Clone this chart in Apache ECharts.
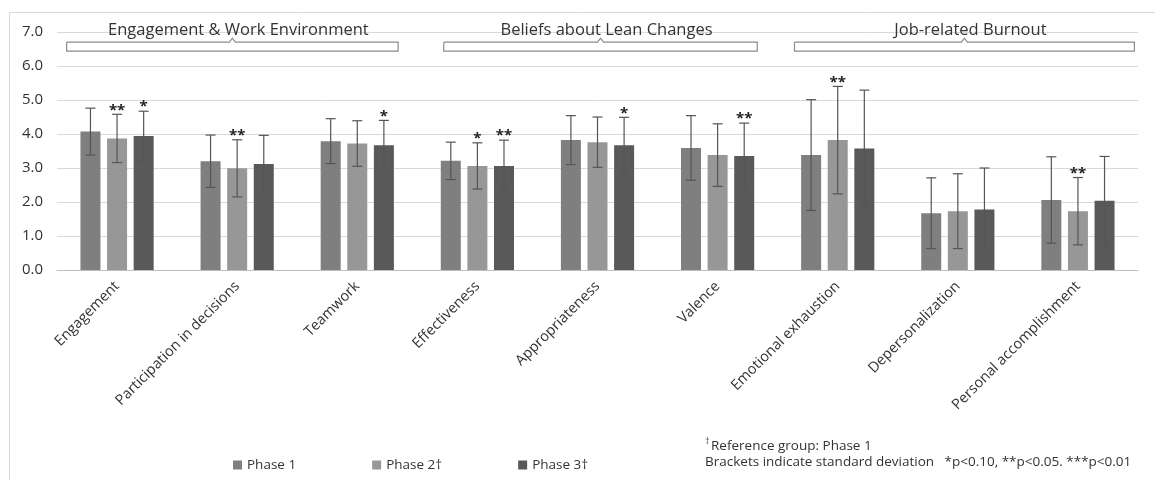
<!DOCTYPE html>
<html>
<head>
<meta charset="utf-8">
<script src="https://cdn.jsdelivr.net/npm/echarts@6/dist/echarts.min.js"></script>
<style>
  html, body { margin: 0; padding: 0; background: #fff; }
  #chart { width: 1155px; height: 480px; }
</style>
</head>
<body>
<div id="chart"></div>
<script>
// categories on the x axis
const categories = [
  'Engagement', 'Participation in decisions', 'Teamwork',
  'Effectiveness', 'Appropriateness', 'Valence',
  'Emotional exhaustion', 'Depersonalization', 'Personal accomplishment'
]
const phaseNames = ['Phase 1', 'Phase 2†', 'Phase 3†']

// means
const phase1 = [4.07, 3.20, 3.79, 3.21, 3.82, 3.59, 3.38, 1.67, 2.06]
const phase2 = [3.87, 2.99, 3.72, 3.06, 3.76, 3.38, 3.82, 1.73, 1.73]
const phase3 = [3.94, 3.12, 3.67, 3.06, 3.67, 3.35, 3.57, 1.78, 2.04]

// standard deviations (error bars)
const sd1 = [0.69, 0.77, 0.66, 0.55, 0.72, 0.95, 1.63, 1.04, 1.27]
const sd2 = [0.71, 0.84, 0.67, 0.68, 0.74, 0.92, 1.58, 1.10, 0.99]
const sd3 = [0.73, 0.84, 0.73, 0.76, 0.82, 0.97, 1.72, 1.22, 1.30]

// significance marks
const sig1 = ['', '', '', '', '', '', '', '', '']
const sig2 = ['**', '**', '', '*', '', '', '**', '', '**']
const sig3 = ['*', '', '*', '**', '*', '**', '', '', '']

// group brackets: first / last category index
const groupNames = ['Engagement & Work Environment', 'Beliefs about Lean Changes', 'Job-related Burnout']
const groupFrom = [0, 3, 6]
const groupTo = [2, 5, 8]

const yTicks = [0, 1, 2, 3, 4, 5, 6, 7]

const colors = ['#7f7f7f', '#979797', '#595959']
const BAR_W = 20
const BAR_GAP = 0.33
const FONT = '"Open Sans", sans-serif'
const TXT = '#333333'

const chart = echarts.init(document.getElementById('chart'))

function errorSeries(means, sds, sigs, k) {
  return {
    type: 'custom',
    name: phaseNames[k],
    z: 5,
    silent: true,
    data: means.map((v, i) => [i, v, sds[i]]),
    renderItem(params, api) {
      const i = api.value(0)
      const v = api.value(1)
      const sd = api.value(2)
      const off = (k - 1) * BAR_W * (1 + BAR_GAP)
      const top = api.coord([i, v + sd])
      const bot = api.coord([i, v - sd])
      const x = top[0] + off
      const cap = 5
      const st = { stroke: '#555555', lineWidth: 1.2 }
      const children = [
        { type: 'line', shape: { x1: x, y1: top[1], x2: x, y2: bot[1] }, style: st },
        { type: 'line', shape: { x1: x - cap, y1: top[1], x2: x + cap, y2: top[1] }, style: st },
        { type: 'line', shape: { x1: x - cap, y1: bot[1], x2: x + cap, y2: bot[1] }, style: st }
      ]
      if (sigs[i]) {
        children.push({
          type: 'text',
          style: {
            text: sigs[i], x: x, y: top[1] - 4,
            textAlign: 'center', textVerticalAlign: 'middle',
            fontSize: 15, fontWeight: 'bold', fontFamily: FONT, fill: '#222'
          }
        })
      }
      return { type: 'group', children }
    }
  }
}

function barSeries(means, k) {
  return {
    type: 'bar',
    name: phaseNames[k],
    data: means,
    barWidth: BAR_W,
    barGap: (BAR_GAP * 100) + '%',
    itemStyle: { color: colors[k] }
  }
}

chart.setOption({
  animation: false,
  color: colors,
  grid: { left: 57, right: 17, top: 32, bottom: 210 },
  legend: {
    data: phaseNames,
    left: 228,
    top: 453,
    icon: 'rect',
    itemWidth: 9,
    itemHeight: 9,
    itemGap: 76,
    textStyle: { fontSize: 13.5, color: TXT, fontFamily: FONT }
  },
  xAxis: {
    type: 'category',
    data: categories,
    axisTick: { show: false },
    axisLine: { lineStyle: { color: '#bfbfbf' } },
    axisLabel: {
      rotate: 45,
      interval: 0,
      margin: 14,
      fontSize: 14.5,
      color: TXT,
      fontFamily: FONT
    }
  },
  yAxis: {
    type: 'value',
    min: yTicks[0],
    max: yTicks[yTicks.length - 1],
    interval: 1,
    axisLine: { show: false },
    axisTick: { show: false },
    splitLine: { lineStyle: { color: '#d9d9d9' } },
    axisLabel: {
      margin: 14,
      fontSize: 15,
      color: TXT,
      fontFamily: FONT,
      formatter: v => v.toFixed(1)
    }
  },
  series: [
    barSeries(phase1, 0), barSeries(phase2, 1), barSeries(phase3, 2),
    errorSeries(phase1, sd1, sig1, 0),
    errorSeries(phase2, sd2, sig2, 1),
    errorSeries(phase3, sd3, sig3, 2)
  ]
})

// brackets + group titles, positioned from the axes
const bracketPad = [[-0.42, 0.34], [-0.28, 0.33], [-0.36, 0.47]]
const c0 = chart.convertToPixel({ xAxisIndex: 0 }, categories[0])
const c1 = chart.convertToPixel({ xAxisIndex: 0 }, categories[1])
const catW = c1 - c0
const yTop = chart.convertToPixel({ yAxisIndex: 0 }, 6.7)
const yBot = chart.convertToPixel({ yAxisIndex: 0 }, 6.44)
const yText = chart.convertToPixel({ yAxisIndex: 0 }, 7.06)

const graphics = [
  { type: 'rect', left: 7, top: 10, silent: true,
    shape: { width: 1170, height: 490 },
    style: { fill: 'none', stroke: '#d9d9d9', lineWidth: 1 } }
]
groupNames.forEach((name, g) => {
  const x1 = chart.convertToPixel({ xAxisIndex: 0 }, categories[groupFrom[g]]) + bracketPad[g][0] * catW
  const x2 = chart.convertToPixel({ xAxisIndex: 0 }, categories[groupTo[g]]) + bracketPad[g][1] * catW
  const mx = (x1 + x2) / 2
  graphics.push({
    type: 'polyline', silent: true,
    shape: { points: [[x1, yTop], [mx - 3, yTop], [mx, yTop - 4], [mx + 3, yTop], [x2, yTop], [x2, yBot], [x1, yBot], [x1, yTop]] },
    style: { fill: '#fff', stroke: '#8c8c8c', lineWidth: 1.2 }
  })
  graphics.push({
    type: 'text', silent: true, x: mx + 6, y: yText,
    style: { text: name, textAlign: 'center', textVerticalAlign: 'middle', fontSize: 16.5, fontFamily: FONT, fill: TXT }
  })
})
graphics.push(
  { type: 'text', silent: true, x: 705, y: 437,
    style: { text: '†', fontSize: 9, fontFamily: FONT, fill: TXT } },
  { type: 'text', silent: true, x: 711, y: 439,
    style: { text: 'Reference group: Phase 1', fontSize: 13.5, fontFamily: FONT, fill: TXT } },
  { type: 'text', silent: true, x: 705, y: 455,
    style: { text: 'Brackets indicate standard deviation   *p<0.10, **p<0.05. ***p<0.01', fontSize: 13.5, fontFamily: FONT, fill: TXT } }
)
chart.setOption({ graphic: graphics })
</script>
</body>
</html>
